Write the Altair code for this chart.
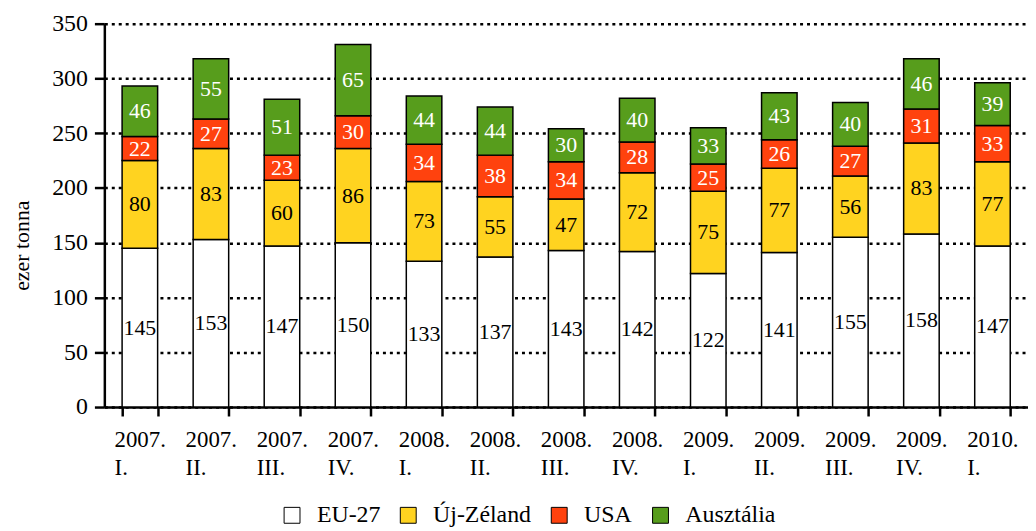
import altair as alt
import pandas as pd

periods = ["2007. I.", "2007. II.", "2007. III.", "2007. IV.",
           "2008. I.", "2008. II.", "2008. III.", "2008. IV.",
           "2009. I.", "2009. II.", "2009. III.", "2009. IV.", "2010. I."]
series = ["EU-27", "Új-Zéland", "USA", "Ausztália"]
eu27 = [145, 153, 147, 150, 133, 137, 143, 142, 122, 141, 155, 158, 147]
ujzeland = [80, 83, 60, 86, 73, 55, 47, 72, 75, 77, 56, 83, 77]
usa = [22, 27, 23, 30, 34, 38, 34, 28, 25, 26, 27, 31, 33]
ausztralia = [46, 55, 51, 65, 44, 44, 30, 40, 33, 43, 40, 46, 39]
colors = ["#ffffff", "#ffd320", "#ff420e", "#579d1c"]
text_colors = ["#000000", "#000000", "#ffffff", "#ffffff"]

rows = []
for si, (name, vals) in enumerate(zip(series, [eu27, ujzeland, usa, ausztralia])):
    for p, v in zip(periods, vals):
        rows.append({"period": p, "series": name, "value": v, "ord": si,
                     "tc": text_colors[si]})
df = pd.DataFrame(rows)

FONT = "Liberation Serif"

base = alt.Chart(df).transform_stack(
    stack="value", groupby=["period"], sort=[alt.SortField("ord", order="ascending")],
    as_=["y0", "y1"]
).transform_calculate(mid="(datum.y0 + datum.y1) / 2")

xscale = alt.Scale(paddingInner=0.5, paddingOuter=0.25)
yscale = alt.Scale(domain=[0, 350], nice=False)

bars = base.mark_bar(stroke="#000000", strokeWidth=1.5).encode(
    x=alt.X("period:N", sort=periods, title=None, scale=xscale,
            axis=alt.Axis(labelExpr="split(datum.label, ' ')", labelAngle=0,
                          labelAlign="left", labelOffset=-26, labelBaseline="top",
                          labelPadding=13, labelLineHeight=28,
                          labelFont=FONT, labelFontSize=23,
                          tickBand="extent", grid=False)),
    y=alt.Y("y0:Q", scale=yscale, title="ezer tonna",
            axis=alt.Axis(values=list(range(0, 351, 50)), grid=True,
                          labelFont=FONT, labelFontSize=24, labelPadding=7,
                          titleFont=FONT, titleFontSize=22,
                          titleX=-83, titleY=223, titleAngle=-90,
                          titleBaseline="middle", titleAlign="center")),
    y2="y1:Q",
    color=alt.Color("series:N", sort=series,
                    scale=alt.Scale(domain=series, range=colors),
                    legend=alt.Legend(title=None, orient="none", direction="horizontal",
                                      legendX=177, legendY=483,
                                      symbolType="square", symbolSize=256,
                                      symbolStrokeColor="#000000", symbolStrokeWidth=1,
                                      labelFont=FONT, labelFontSize=24,
                                      labelColor="#000000", columnPadding=16,
                                      labelOffset=13)),
)

labels = base.mark_text(font=FONT, fontSize=22, baseline="middle").encode(
    x=alt.X("period:N", sort=periods, scale=xscale),
    y=alt.Y("mid:Q", scale=yscale),
    text="value:Q",
    color=alt.Color("tc:N", scale=None),
)

chart = alt.layer(bars, labels).properties(
    width=930, height=386,
    padding={"left": 3, "top": 2, "right": 0, "bottom": 0},
).configure(background="#ffffff", font=FONT).configure_view(stroke=None).configure_axis(
    labelColor="#000000",
    titleFontWeight="normal", titleColor="#000000",
    domainColor="#000000", domainWidth=2.5,
    tickColor="#000000", tickWidth=2.5,
).configure_axisY(
    gridColor="#000000", gridDash=[3, 4], gridWidth=2.5,
    tickSize=10,
).configure_axisX(
    tickSize=9,
)

chart.save("out.html", embed_options={"renderer": "svg", "actions": False})
